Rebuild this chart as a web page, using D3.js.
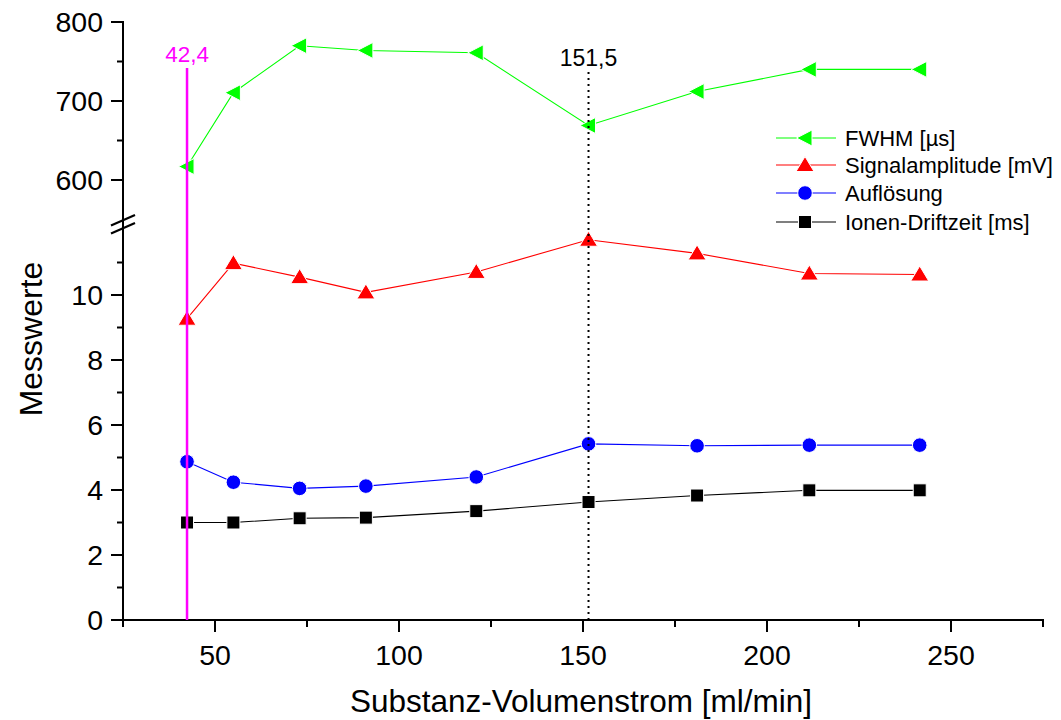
<!DOCTYPE html>
<html><head><meta charset="utf-8">
<script src="https://cdn.jsdelivr.net/npm/d3@7"></script>
<style>body{margin:0;background:#fff}svg{display:block;font-family:Arial,"Liberation Sans",sans-serif}</style>
</head><body><svg id="c" width="1061" height="720"></svg>
<script>
const flow = [42.4, 55, 73, 91, 121, 151.5, 181, 211.5, 241.5];
const fwhm = [617, 710.5, 770, 764, 761, 669, 712, 740, 740];
const amplitude = [9.27, 10.98, 10.55, 10.08, 10.71, 11.7, 11.28, 10.66, 10.63];
const resolution = [4.87, 4.24, 4.05, 4.12, 4.40, 5.42, 5.36, 5.38, 5.38];
const driftTime = [3.0, 3.0, 3.13, 3.15, 3.35, 3.63, 3.83, 3.99, 3.99];
const xTicks = [50, 100, 150, 200, 250];
const xMinor = [25, 75, 125, 175, 225, 275];
const yLowTicks = [0, 2, 4, 6, 8, 10];
const yLowMinor = [1, 3, 5, 7, 9, 11];
const yHighTicks = [600, 700, 800];
const yHighMinor = [650, 750];
const markLines = [42.4, 151.5];
const markLabels = ["42,4", "151,5"];
const seriesNames = ["FWHM [µs]", "Signalamplitude [mV]", "Auflösung", "Ionen-Driftzeit [ms]"];

const svg = d3.select("#c");
const x = d3.scaleLinear().domain([25, 275]).range([123, 1043]);
const yLow = d3.scaleLinear().domain([0, 12]).range([620, 230]);
const yHigh = d3.scaleLinear().domain([550, 800]).range([219.5, 22]);

const series = [
  {name: seriesNames[0], vals: fwhm, y: yHigh, color: "#00ff00", sym: "left"},
  {name: seriesNames[1], vals: amplitude, y: yLow, color: "#ff0000", sym: "up"},
  {name: seriesNames[2], vals: resolution, y: yLow, color: "#0000ff", sym: "circle"},
  {name: seriesNames[3], vals: driftTime, y: yLow, color: "#000000", sym: "square"}
];

function marker(g, sym, color) {
  let el;
  if (sym === "left") el = g.append("path").attr("d", "M-8.5,0L7,-8L7,8Z");
  else if (sym === "up") el = g.append("path").attr("d", "M0,-8.5L9,6.5L-9,6.5Z");
  else if (sym === "circle") el = g.append("circle").attr("r", 7.3);
  else el = g.append("rect").attr("x", -6.5).attr("y", -6.5).attr("width", 13).attr("height", 13);
  el.attr("fill", color).attr("stroke", "#fff").attr("stroke-width", 1);
}

series.forEach(s => {
  const line = d3.line().x((d, i) => x(flow[i])).y(d => s.y(d));
  svg.append("path").attr("d", line(s.vals)).attr("fill", "none")
    .attr("stroke", s.color).attr("stroke-width", 1.1);
  s.vals.forEach((v, i) => {
    const g = svg.append("g").attr("transform", `translate(${x(flow[i])},${s.y(v)})`);
    marker(g, s.sym, s.color);
  });
});

const ax = svg.append("g").attr("stroke", "#000").attr("stroke-width", 2);
ax.append("line").attr("x1", 123).attr("x2", 123).attr("y1", 21).attr("y2", 621);
ax.append("line").attr("x1", 111).attr("x2", 1044).attr("y1", 620).attr("y2", 620);
ax.append("line").attr("x1", 111).attr("y1", 225.5).attr("x2", 135).attr("y2", 215).attr("stroke-width", 2.2);
ax.append("line").attr("x1", 111).attr("y1", 233.5).attr("x2", 135).attr("y2", 223).attr("stroke-width", 2.2);

yLowTicks.forEach(t => ax.append("line").attr("x1", 111).attr("x2", 123).attr("y1", yLow(t)).attr("y2", yLow(t)));
yLowMinor.forEach(t => ax.append("line").attr("x1", 117).attr("x2", 123).attr("y1", yLow(t)).attr("y2", yLow(t)));
yHighTicks.forEach(t => ax.append("line").attr("x1", 111).attr("x2", 123).attr("y1", yHigh(t)).attr("y2", yHigh(t)));
yHighMinor.forEach(t => ax.append("line").attr("x1", 117).attr("x2", 123).attr("y1", yHigh(t)).attr("y2", yHigh(t)));
xTicks.forEach(t => ax.append("line").attr("x1", x(t)).attr("x2", x(t)).attr("y1", 620).attr("y2", 632));
xMinor.forEach(t => ax.append("line").attr("x1", x(t)).attr("x2", x(t)).attr("y1", 620).attr("y2", 627));

const tl = svg.append("g").attr("font-size", 28.5).attr("fill", "#000");
yLowTicks.forEach(t => tl.append("text").attr("x", 103).attr("y", yLow(t) + 10).attr("text-anchor", "end").text(t));
yHighTicks.forEach(t => tl.append("text").attr("x", 103).attr("y", yHigh(t) + 10).attr("text-anchor", "end").text(t));
xTicks.forEach(t => tl.append("text").attr("x", x(t)).attr("y", 665).attr("text-anchor", "middle").text(t));

svg.append("text").attr("x", 581).attr("y", 712).attr("text-anchor", "middle").attr("font-size", 31.5).text("Substanz-Volumenstrom [ml/min]");
svg.append("text").attr("transform", "translate(42,339) rotate(-90)").attr("text-anchor", "middle").attr("font-size", 32).text("Messwerte");

svg.append("line").attr("x1", x(markLines[0])).attr("x2", x(markLines[0])).attr("y1", 68).attr("y2", 620)
  .attr("stroke", "#ff00ff").attr("stroke-width", 2.5);
svg.append("text").attr("x", x(markLines[0])).attr("y", 62).attr("text-anchor", "middle").attr("font-size", 22.5)
  .attr("fill", "#ff00ff").text(markLabels[0]);
svg.append("line").attr("x1", x(markLines[1])).attr("x2", x(markLines[1])).attr("y1", 72).attr("y2", 620)
  .attr("stroke", "#000").attr("stroke-width", 2).attr("stroke-dasharray", "2,4");
svg.append("text").attr("x", x(markLines[1])).attr("y", 66).attr("text-anchor", "middle").attr("font-size", 23)
  .attr("fill", "#000").text(markLabels[1]);

const rows = [138, 165, 193, 222];
series.forEach((s, i) => {
  const g = svg.append("g").attr("transform", `translate(0,${rows[i]})`);
  g.append("line").attr("x1", 776).attr("x2", 836).attr("y1", 0).attr("y2", 0).attr("stroke", s.color).attr("stroke-width", 1.1);
  const m = g.append("g").attr("transform", "translate(805,0)");
  marker(m, s.sym, s.color);
  g.append("text").attr("x", 845).attr("y", 8).attr("font-size", 22).text(s.name);
});
</script></body></html>
